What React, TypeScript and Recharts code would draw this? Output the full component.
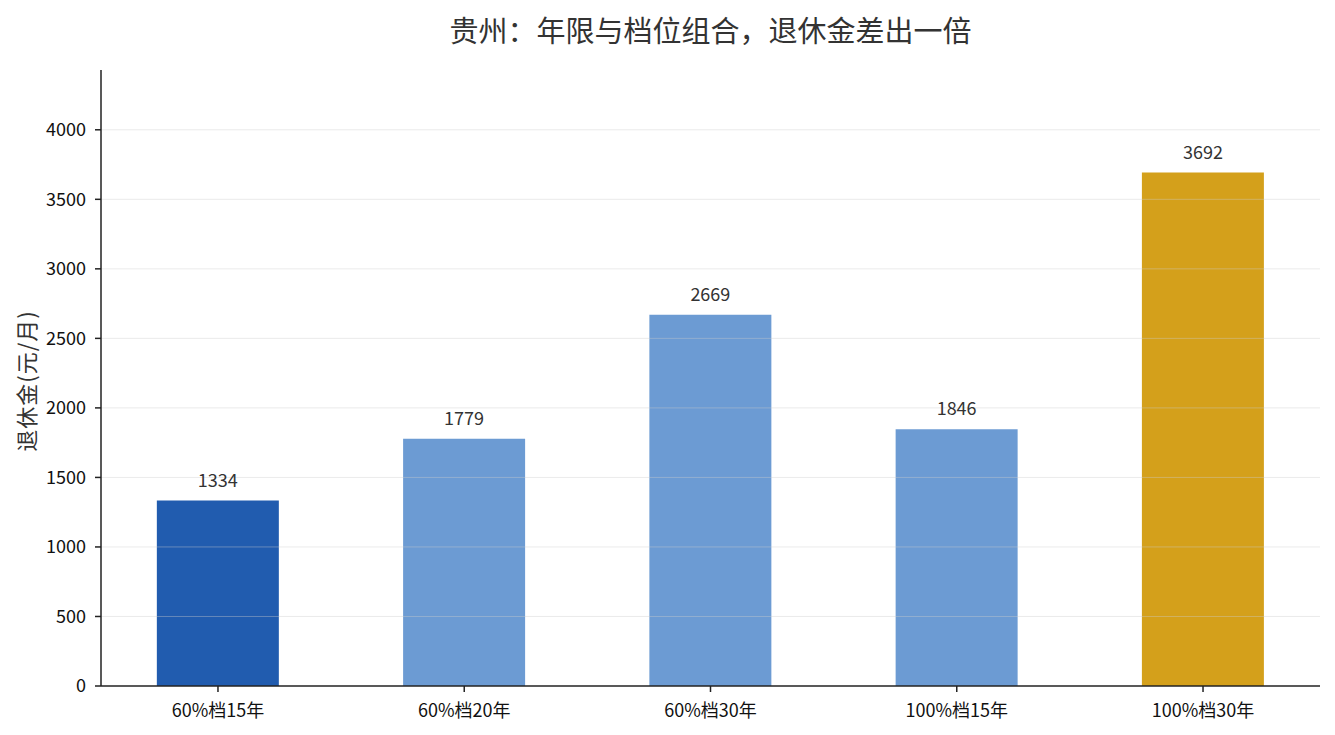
import { BarChart, Bar, XAxis, YAxis, Cell, LabelList, ReferenceLine } from 'recharts';

const FONT = "'Noto Sans CJK SC', 'Noto Sans', sans-serif";

const categories = ['60%档15年', '60%档20年', '60%档30年', '100%档15年', '100%档30年'];
const pensions = [1334, 1779, 2669, 1846, 3692];
const barColors = ['#215caf', '#6c9bd3', '#6c9bd3', '#6c9bd3', '#d4a01b'];
const yTicks = [0, 500, 1000, 1500, 2000, 2500, 3000, 3500, 4000];

const data = categories.map((name, i) => ({ idx: i, name, value: pensions[i] }));

const tickStyle = { fontFamily: FONT, fontSize: 18, fill: '#111' };

function YLabel() {
  return (
    <text
      x={25}
      y={381}
      transform="rotate(-90 25 381)"
      textAnchor="middle"
      dominantBaseline="central"
      fontFamily={FONT}
      fontSize={22}
      letterSpacing={1}
      fill="#333"
    >
      退休金(元/月)
    </text>
  );
}

export default function App() {
  return (
    <div style={{ position: 'absolute', left: 0, top: 0, width: 1335, height: 735, background: '#fff' }}>
      <div
        style={{
          position: 'absolute',
          left: 101,
          width: 1219,
          top: 8,
          textAlign: 'center',
          fontFamily: FONT,
          fontSize: 29,
          color: '#333',
          lineHeight: '42px',
        }}
      >
        贵州：年限与档位组合，退休金差出一倍
      </div>
      <BarChart width={1335} height={735} data={data} margin={{ top: 70, right: 15, bottom: 0, left: 41 }}>
        <XAxis
          type="number"
          dataKey="idx"
          domain={[-0.475, 4.475]}
          ticks={[0, 1, 2, 3, 4]}
          tickFormatter={(i: number) => categories[i]}
          tick={tickStyle}
          tickSize={6}
          tickMargin={12}
          axisLine={{ stroke: '#222', strokeWidth: 1.5 }}
          tickLine={{ stroke: '#222', strokeWidth: 1.5 }}
          height={49}
          allowDataOverflow
        />
        <YAxis
          domain={[0, 4430]}
          ticks={yTicks}
          tick={tickStyle}
          tickSize={6}
          tickMargin={9}
          axisLine={{ stroke: '#222', strokeWidth: 1.5 }}
          tickLine={{ stroke: '#222', strokeWidth: 1.5 }}
          width={60}
          allowDataOverflow
          label={<YLabel />}
        />
        <Bar dataKey="value" barSize={122} isAnimationActive={false}>
          {data.map((d, i) => (
            <Cell key={d.name} fill={barColors[i]} />
          ))}
          <LabelList dataKey="value" position="top" offset={14} fontFamily={FONT} fontSize={18} fill="#333" />
        </Bar>
        {yTicks.slice(1).map(t => (
          <ReferenceLine key={t} y={t} stroke="#cccccc" strokeOpacity={0.4} strokeWidth={1} />
        ))}
      </BarChart>
    </div>
  );
}
